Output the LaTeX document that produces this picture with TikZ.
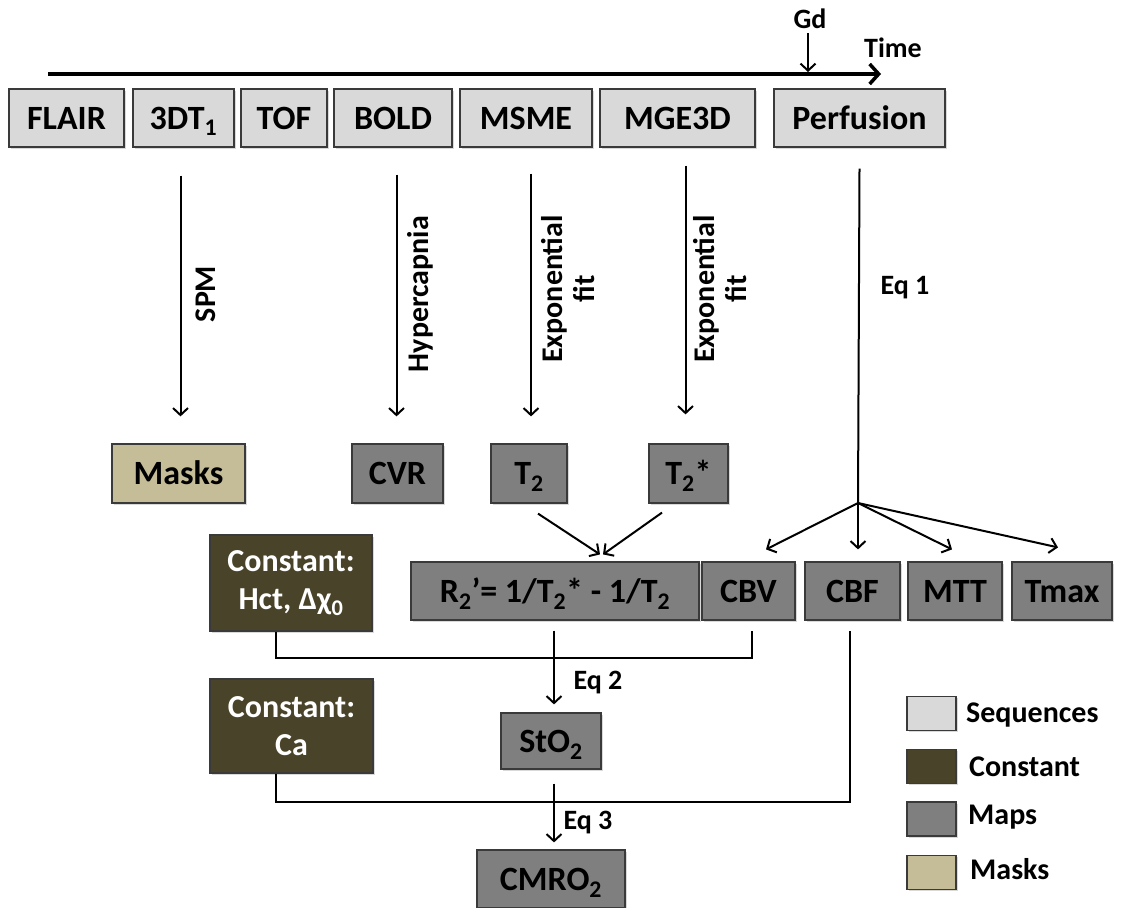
\documentclass[tikz,border=0pt]{standalone}
\usepackage{fontspec}
\setmainfont{Carlito}
\usetikzlibrary{arrows.meta,calc,shadows}
\definecolor{seqc}{HTML}{D9D9D9}
\definecolor{constc}{HTML}{494429}
\definecolor{mapc}{HTML}{7F7F7F}
\definecolor{maskc}{HTML}{C4BD97}
\definecolor{edgec}{HTML}{3A3A3A}
\begin{document}
\begin{tikzpicture}[x=1pt,y=-1pt,
  boxbase/.style={draw=edgec, line width=1.2pt, inner sep=0pt, align=center,
    font=\fontsize{34}{38}\selectfont\bfseries,
    drop shadow={shadow xshift=1.8pt, shadow yshift=-1.8pt, opacity=0.3}},
  onel/.style={text height=22pt, text depth=0pt},
  wh/.style 2 args={minimum width=#1pt, minimum height=#2pt},
  seq/.style={boxbase, onel, fill=seqc},
  mapbox/.style={boxbase, onel, fill=mapc},
  maskbox/.style={boxbase, onel, fill=maskc},
  constbox/.style={boxbase, fill=constc, text=white, font=\fontsize{32}{38}\selectfont\bfseries},
  lbl/.style={font=\fontsize{28}{30}\selectfont\bfseries, inner sep=0pt, align=center},
  vlbl/.style={font=\fontsize{30}{32}\selectfont\bfseries, inner sep=0pt, align=center, rotate=90},
  leglbl/.style={font=\fontsize{30}{34}\selectfont\bfseries, inner sep=0pt, anchor=west},
  conn/.style={line width=2pt},
  arr/.style={line width=2pt, -{Straight Barb[length=7pt,width=15pt]}},
  tlarr/.style={line width=3.5pt, -{Straight Barb[length=9pt,width=20pt]}}
]
\useasboundingbox (0,0) rectangle (1123,907);

% timeline
\coordinate (tl0) at (48,74);
\coordinate (tl1) at (881,74);
\draw[tlarr] (tl0) -- (tl1);
\node[lbl] (gd) at (810,19) {Gd};
\node[lbl] (time) at (893,48) {Time};
\draw[arr, shorten >=2pt] ($(gd.south)+(-2,4)$) -- ($(gd.south |- tl1)+(-2,0)$);

% sequences
\node[seq, wh={115}{58}] (flair) at (66.5,118) {FLAIR};
\node[seq, wh={101}{58}] (t3dt) at (183.5,118) {3DT\textsubscript{1}};
\node[seq, wh={86}{58}] (tof) at (284,118) {TOF};
\node[seq, wh={118}{58}] (bold) at (393,118) {BOLD};
\node[seq, wh={132}{58}] (msme) at (526,118) {MSME};
\node[seq, wh={155}{58}] (mge) at (677.5,118) {MGE3D};
\node[seq, wh={171}{58}] (perf) at (859.5,118) {Perfusion};

% second row
\node[maskbox, wh={133}{59}] (masks) at (178.5,473.5) {Masks};
\node[mapbox, wh={91}{59}] (cvr) at (397.5,473.5) {CVR};
\node[mapbox, wh={76}{59}] (t2) at (529,473.5) {T\textsubscript{2}};
\node[mapbox, wh={79}{59}] (t2s) at (688.5,473.5) {T\textsubscript{2}*};

% third row
\node[constbox, wh={162}{96}] (hct) at (291,583) {Constant:\\Hct, Δχ\textsubscript{0}};
\node[mapbox, wh={288}{58}] (r2) at (555,591) {R\textsubscript{2}’= 1/T\textsubscript{2}* - 1/T\textsubscript{2}};
\node[mapbox, wh={93}{58}] (cbv) at (748.5,591) {CBV};
\node[mapbox, wh={95}{58}] (cbf) at (852.5,591) {CBF};
\node[mapbox, wh={94}{58}] (mtt) at (955,591) {MTT};
\node[mapbox, wh={100}{58}] (tmax) at (1062,591) {Tmax};

% lower
\node[constbox, wh={163}{94}] (ca) at (291.5,726) {Constant:\\Ca};
\node[mapbox, wh={100}{56}] (sto2) at (551,741) {StO\textsubscript{2}};
\node[mapbox, wh={148}{58}] (cmro) at (551,879) {CMRO\textsubscript{2}};

% vertical arrows from sequences
\draw[arr] ($(t3dt.south -| masks.north)+(2,28)$) -- ($(masks.north)+(2,-27)$);
\draw[arr] ($(bold.south -| cvr.north)+(-1,27)$) -- ($(cvr.north)+(-1,-27)$);
\draw[arr] ($(msme.south -| t2.north)+(2,26)$) -- ($(t2.north)+(2,-27)$);
\draw[arr] ($(mge.south -| t2s.north)+(-3,18)$) -- ($(t2s.north)+(-3,-29)$);
\coordinate (fan) at (858,503);
\draw[conn] ($(perf.south)+(0,21)$ -| fan) -- (fan);

\node[vlbl] (spm) at (206,294) {SPM};
\node[vlbl] (hyp) at (420,294) {Hypercapnia};
\node[vlbl] (exp1) at (568,289) {Exponential\\fit};
\node[vlbl] (exp2) at (720,289) {Exponential\\fit};
\node[lbl] (eq1) at (905,288) {Eq 1};

% fan
\draw[arr] (fan) -- ($(cbv.north)+(17.5,-12)$);
\draw[arr] (fan) -- ($(cbf.north)+(5.5,-12)$);
\draw[arr] (fan) -- ($(mtt.north)+(-3,-12)$);
\draw[arr] (fan) -- ($(tmax.north)+(-4,-14)$);

% converge to R2'
\draw[arr] ($(t2.south)+(9,10)$) -- ($(r2.north)+(45,-7)$);
\draw[arr] ($(t2s.south)+(-26.5,9)$) -- ($(r2.north)+(48,-7)$);

% Hct / CBV line
\draw[conn] ($(hct.south)+(-15,0)$) |- ($(cbv.south)+(3.5,37)$) -- ($(cbv.south)+(3.5,10)$);
\draw[arr] ($(r2.south)+(-1,10)$) -- ($(sto2.north)+(3,-8)$);
\node[lbl] (eq2) at (598,683) {Eq 2};

% Ca / CBF line
\draw[conn] ($(ca.south)+(-15.5,0)$) |- ($(cbf.south)+(-2.5,181)$) -- ($(cbf.south)+(-2.5,10)$);
\draw[arr] ($(sto2.south)+(3,14)$) -- ($(cmro.north)+(3,-7)$);
\node[lbl] (eq3) at (588,823) {Eq 3};

% legend
\node[seq, wh={49}{34}] (lg1) at (931.5,713.5) {};
\node[boxbase, fill=constc, wh={49}{34}] (lg2) at (931.5,766.5) {};
\node[mapbox, wh={49}{34}] (lg3) at (931.5,819) {};
\node[maskbox, wh={49}{34}] (lg4) at (931.5,872.5) {};
\node[leglbl] (lt1) at (966,715) {Sequences};
\node[leglbl] (lt2) at (969,767) {Constant};
\node[leglbl] (lt3) at (968,817) {Maps};
\node[leglbl] (lt4) at (970,869) {Masks};
\end{tikzpicture}
\end{document}
